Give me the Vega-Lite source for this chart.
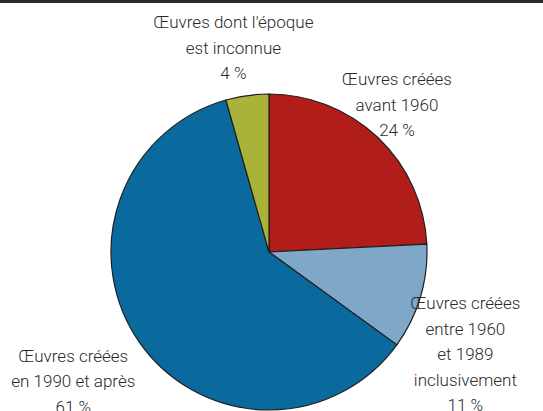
{
  "$schema": "https://vega.github.io/schema/vega-lite/v6.json",
  "width": 538,
  "height": 316,
  "autosize": {"type": "none"},
  "padding": {"left": 0, "top": 94, "right": 5, "bottom": 1},
  "background": "white",
  "config": {
    "view": {"stroke": null},
    "text": {"font": "Roboto", "fontWeight": 300, "fontSize": 17, "lineHeight": 25.5, "fill": "#2a2a2a", "lineBreak": "\n", "align": "center", "baseline": "middle"}
  },
  "data": {
    "values": [
      {"categorie": "Œuvres créées avant 1960", "part": 24.2, "etiquette": "Œuvres créées\navant 1960\n24 %", "rang": 1},
      {"categorie": "Œuvres créées entre 1960 et 1989 inclusivement", "part": 10.8, "etiquette": "Œuvres créées\nentre 1960\net 1989\ninclusivement\n11 %", "rang": 2},
      {"categorie": "Œuvres créées en 1990 et après", "part": 60.6, "etiquette": "Œuvres créées\nen 1990 et après\n61 %", "rang": 3},
      {"categorie": "Œuvres dont l'époque est inconnue", "part": 4.4, "etiquette": "Œuvres dont l'époque\nest inconnue\n4 %", "rang": 4}
    ]
  },
  "layer": [
    {
      "encoding": {
        "theta": {"field": "part", "type": "quantitative", "stack": true},
        "order": {"field": "rang", "type": "quantitative"},
        "detail": {"field": "categorie", "type": "nominal"}
      },
      "layer": [
        {
          "mark": {"type": "arc", "stroke": "#1f1f1f", "strokeWidth": 1.2, "outerRadius": 158},
          "encoding": {
            "color": {
              "field": "categorie",
              "type": "nominal",
              "scale": {
                "domain": ["Œuvres créées avant 1960", "Œuvres créées entre 1960 et 1989 inclusivement", "Œuvres créées en 1990 et après", "Œuvres dont l'époque est inconnue"],
                "range": ["#b11d18", "#7fa7c8", "#0b6a9d", "#a9b33a"]
              },
              "legend": null
            }
          }
        },
        {
          "mark": {"type": "text", "radius": 194.4, "dx": -6, "dy": -31},
          "encoding": {"text": {"condition": {"test": "datum.rang === 1", "field": "etiquette", "type": "nominal"}, "value": ""}}
        },
        {
          "mark": {"type": "text", "radius": 217.4, "dx": -12, "dy": -9.5},
          "encoding": {"text": {"condition": {"test": "datum.rang === 2", "field": "etiquette", "type": "nominal"}, "value": ""}}
        },
        {
          "mark": {"type": "text", "radius": 235, "dx": -3, "dy": -30},
          "encoding": {"text": {"condition": {"test": "datum.rang === 3", "field": "etiquette", "type": "nominal"}, "value": ""}}
        },
        {
          "mark": {"type": "text", "radius": 207.5, "dx": -7, "dy": -23},
          "encoding": {"text": {"condition": {"test": "datum.rang === 4", "field": "etiquette", "type": "nominal"}, "value": ""}}
        }
      ]
    },
    {
      "data": {"values": [{}]},
      "mark": {"type": "rule", "strokeWidth": 3, "color": "#2b2b2b"},
      "encoding": {"x": {"value": 0}, "x2": {"value": 543}, "y": {"value": -92.5}}
    }
  ]
}
